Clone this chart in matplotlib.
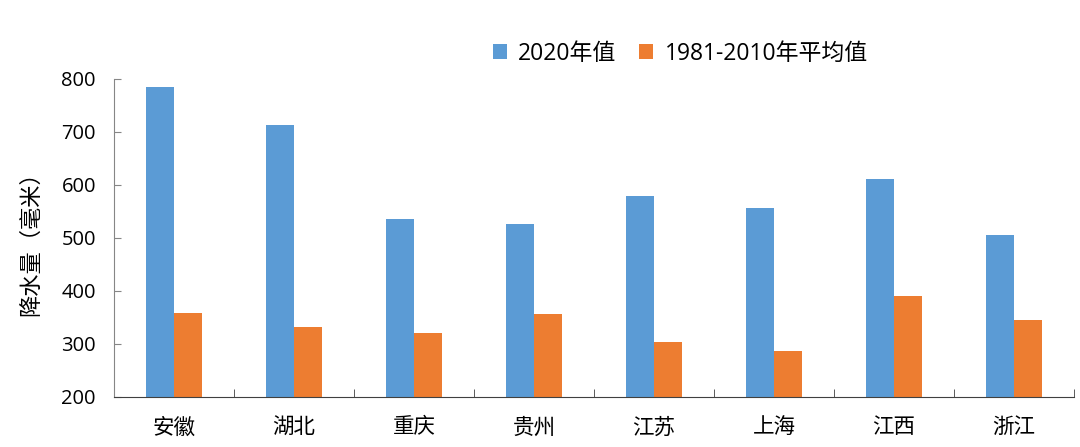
import matplotlib
matplotlib.use('Agg')
import matplotlib.pyplot as plt
import numpy as np

plt.rcParams['font.family'] = ['Open Sans', 'Noto Sans CJK SC', 'DejaVu Sans']

provinces = ['安徽', '湖北', '重庆', '贵州', '江苏', '上海', '江西', '浙江']
val_2020 = [785, 713, 536, 526, 579, 557, 611, 506]
val_avg = [358, 332, 321, 357, 304, 287, 391, 345]

blue = '#5b9bd5'
orange = '#ed7d31'
axis_grey = '#868686'

fig = plt.figure(figsize=(10.8, 4.47), dpi=100)
ax = fig.add_axes([0.1056, 0.1119, 0.8888, 0.7114])

x = np.arange(len(provinces))
w = 0.235
ax.bar(x - w / 2, val_2020, w, color=blue, label='2020年值')
ax.bar(x + w / 2, val_avg, w, color=orange, label='1981-2010年平均值')

ax.set_xlim(-0.5, len(provinces) - 0.5)
ax.set_ylim(200, 800)
ax.set_yticks(range(200, 801, 100))
ax.tick_params(axis='y', direction='in', length=5, color=axis_grey,
               labelsize=14.5, pad=13)
ax.set_xticks(x)
ax.set_xticklabels(provinces, fontsize=15.5, family=['Noto Sans CJK SC'])
ax.tick_params(axis='x', length=0, pad=14)
ax.set_xticks(np.arange(len(provinces) + 1) - 0.5, minor=True)
ax.tick_params(axis='x', which='minor', direction='in', length=6,
               color='#404040')

for s in ['top', 'right']:
    ax.spines[s].set_visible(False)
ax.spines['left'].set_color(axis_grey)
ax.spines['bottom'].set_color('#404040')

ax.set_ylabel('降水量（毫米）', fontsize=16, family=['Noto Sans CJK SC'],
              labelpad=14)

fig.legend(loc='center', bbox_to_anchor=(0.63, 0.88), ncol=2, frameon=False,
           handlelength=0.6, handleheight=0.6,
           columnspacing=1.0, handletextpad=0.5,
           prop={'family': ['Open Sans', 'Noto Sans CJK SC'], 'size': 16.5})

fig.savefig('out.png', dpi=100)
